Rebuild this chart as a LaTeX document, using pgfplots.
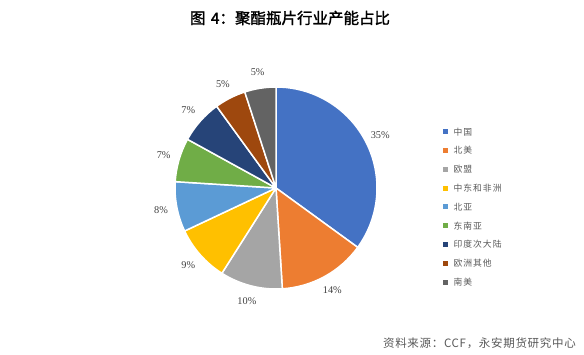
\documentclass[border=0pt]{standalone}
\usepackage{pgfplots}
\pgfplotsset{compat=1.18}
\usepackage{pgfplotstable}
\usepackage{fontspec}
\setmainfont{Liberation Serif}
\newfontfamily\cjk{Noto Sans CJK SC}
\newfontfamily\cjktitle{Noto Sans CJK SC}[FakeBold=1.6]
\newfontfamily\cjkleg{Noto Sans CJK SC}[LetterSpace=11]
\newfontfamily\cjksrc{Noto Sans CJK SC}[LetterSpace=6]
\definecolor{c1}{HTML}{4472C4}
\definecolor{c2}{HTML}{ED7D31}
\definecolor{c3}{HTML}{A5A5A5}
\definecolor{c4}{HTML}{FFC000}
\definecolor{c5}{HTML}{5B9BD5}
\definecolor{c6}{HTML}{70AD47}
\definecolor{c7}{HTML}{264478}
\definecolor{c8}{HTML}{9E480E}
\definecolor{c9}{HTML}{636363}
\definecolor{labgray}{HTML}{404040}
\definecolor{leggray}{HTML}{595959}
\newcommand\lab{\fontsize{10.3}{12}\selectfont\color{labgray}}
\newcommand\leg{\cjkleg\fontsize{8.8}{10}\selectfont\color{leggray}}

\pgfplotstableread{
name value color
中国 35 c1
北美 14 c2
欧盟 10 c3
中东和非洲 9 c4
北亚 8 c5
东南亚 7 c6
印度次大陆 7 c7
欧洲其他 5 c8
南美 5 c9
}\piedata

\begin{document}
\begin{tikzpicture}
\begin{axis}[width=584pt,height=354pt,scale only axis,
  xmin=0,xmax=584,ymin=0,ymax=354,hide axis,clip=false]
\path (axis cs:0,0) rectangle (axis cs:584,354);
\pgfplotstablegetrowsof{\piedata}
\pgfmathtruncatemacro\N{\pgfplotsretval-1}
\def\cum{0}
\pgfplotsforeachungrouped \i in {0,...,\N}{%
  \pgfplotstablegetelem{\i}{value}\of\piedata \let\pv\pgfplotsretval
  \pgfplotstablegetelem{\i}{color}\of\piedata \let\pc\pgfplotsretval
  \pgfplotstablegetelem{\i}{name}\of\piedata \let\pn\pgfplotsretval
  \pgfmathsetmacro\sa{90-3.6*\cum}
  \pgfmathsetmacro\sb{90-3.6*(\cum+\pv)}
  \pgfmathsetmacro\sm{(\sa+\sb)/2}
  \pgfmathsetmacro\ly{354-131.7-18.8*\i}
  \edef\temp{%
   \noexpand\fill[\pc,draw=white,line width=1.5pt,line join=round] (axis cs:276,166) -- ++(\sa:101pt) arc[start angle=\sa,end angle=\sb,radius=101pt] -- cycle;
   \noexpand\path (axis cs:276,166) ++(\sm:117pt) node[font=\noexpand\lab,inner sep=0pt] {\pv\noexpand\%};
   \noexpand\fill[\pc] (axis cs:443,\ly) ++(0,-2.5pt) rectangle ++(5pt,5pt);
   \noexpand\node[anchor=west,font=\noexpand\leg,inner sep=0pt] at (axis cs:453.5,\ly) {\pn};
  }\temp
  \pgfmathsetmacro\cum{\cum+\pv}
}
\node[font=\cjktitle\fontsize{15.5}{18}\selectfont,inner sep=0pt] at (axis cs:290,336) {图\hspace{0.35em}4：聚酯瓶片行业产能占比};
\node[anchor=east,font=\cjksrc\fontsize{11.5}{13}\selectfont\color{leggray},inner sep=0pt] at (axis cs:576,11) {资料来源：CCF，永安期货研究中心};
\end{axis}
\end{tikzpicture}
\end{document}
